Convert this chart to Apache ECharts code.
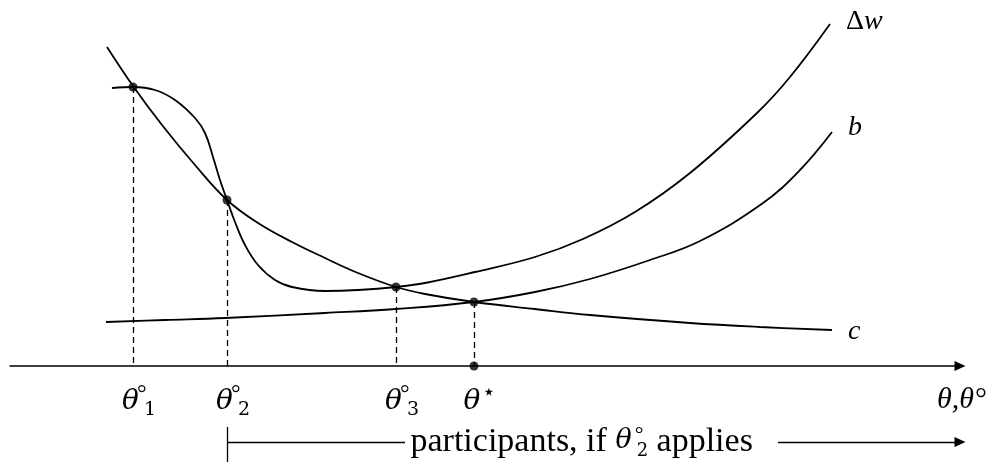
<!DOCTYPE html>
<html>
<head>
<meta charset="utf-8">
<script src="https://cdn.jsdelivr.net/npm/echarts@6/dist/echarts.min.js"></script>
<style>
  html, body { margin: 0; padding: 0; background: #fff; }
  #chart { width: 988px; height: 464px; }
</style>
</head>
<body>
<div id="chart"></div>
<script>
// Curves: x position along the θ axis, y height above the axis
const deltaW = [[112,278],[133,279],[155,276],[175,266],[195,248],[205,233],[213,209],[220,186],[227,166],[235,144],[245,121],[258,101],[275,86],[292,79],[325,75],[358,76],[396,79],[425,83],[475,94],[535,109],[583,127],[635,154],[690,193],[757,253],[790,289],[830,342]];
const benefit = [[106,44],[165,46],[225,48],[325,53],[396,57],[474,64],[535,74],[590,87],[650,106],[700,125],[763,163],[800,196],[832,234]];
const cost = [[107,319],[133,280],[162,241],[195,201],[227,166],[258,143],[292,124],[325,108],[358,93],[396,79],[425,72],[474,64],[535,57],[590,51],[690,43],[760,39],[832,36]];

// Intersections and the marked threshold
const crossings = [[133,279],[227,166],[396,79],[474,64]];
const axisDots = [[474,0]];

// Tick labels under the axis
const tickValues = [133, 227, 396, 474];
const tickSubs = ['1', '2', '3', null];

// Bracket for participants (from θ2° onward), drawn in the strip below the axis
const bracketStart = 227;
const bracketTextAt = 410;
const bracketLineTo = 405;
const bracketArrowFrom = 778;
const bracketEnd = 960;
const bracketY = -76;
const bracketTick = [-61, -96];

const serif = "'Liberation Serif', 'Times New Roman', serif";
const mathFont = "'DejaVu Serif', serif";

function thetaLabel(sub) {
  if (sub === null) return '{t|θ}{st|⋆}';
  return '{t|θ}{d|°}{s|' + sub + '}';
}
const thetaRich = {
  t: { fontFamily: mathFont, fontStyle: 'italic', fontSize: 28, color: '#000', lineHeight: 36 },
  d: { fontFamily: serif, fontSize: 24, color: '#000', width: 0, verticalAlign: 'top', lineHeight: 36, padding: [-1, 0, 0, 3] },
  s: { fontFamily: mathFont, fontSize: 19, color: '#000', verticalAlign: 'bottom', lineHeight: 36, padding: [0, 0, 0, 2] },
  st: { fontFamily: mathFont, fontSize: 22, color: '#000', verticalAlign: 'top', lineHeight: 36, padding: [-2, 0, 0, 2] }
};

const chart = echarts.init(document.getElementById('chart'), null, { renderer: 'canvas' });

const lineStyleCurve = { color: '#000', width: 1.8 };

function curveSeries(name, data, label, offset) {
  return {
    name: name,
    type: 'line',
    data: data,
    smooth: 0.4,
    showSymbol: false,
    symbol: 'none',
    clip: false,
    lineStyle: lineStyleCurve,
    endLabel: {
      show: true,
      formatter: label,
      offset: offset,
      rich: {
        u: { fontFamily: serif, fontSize: 28, color: '#000' },
        i: { fontFamily: serif, fontStyle: 'italic', fontSize: 28, color: '#000' }
      }
    },
    z: 3
  };
}

const option = {
  backgroundColor: '#fff',
  animation: false,
  grid: [
    { left: 10, right: 28, top: 0, bottom: 98, containLabel: false, outerBoundsMode: 'none' },
    { left: 10, right: 28, top: 366, bottom: 0, containLabel: false, outerBoundsMode: 'none' }
  ],
  xAxis: [
    {
      type: 'value',
      gridIndex: 0,
      min: 10,
      max: 960,
      splitLine: { show: false },
      axisTick: { show: false },
      axisLine: {
        onZero: false,
        symbol: ['none', 'triangle'],
        symbolSize: [10, 11],
        lineStyle: { color: '#000', width: 1.5 }
      },
      axisLabel: {
        customValues: tickValues,
        margin: 18,
        formatter: function (v) {
          const i = tickValues.indexOf(v);
          return i < 0 ? '' : thetaLabel(tickSubs[i]);
        },
        padding: [0, 0, 0, 12],
        rich: thetaRich
      },
      name: '{i|θ,θ°}',
      nameLocation: 'end',
      nameGap: 26,
      nameTextStyle: {
        align: 'right',
        verticalAlign: 'top',
        padding: [19, 0, 0, 0],
        rich: { i: { fontFamily: serif, fontStyle: 'italic', fontSize: 30, color: '#000' } }
      }
    },
    { type: 'value', gridIndex: 1, min: 10, max: 960, show: false }
  ],
  yAxis: [
    { type: 'value', gridIndex: 0, min: 0, max: 366, show: false },
    { type: 'value', gridIndex: 1, min: -98, max: 0, show: false }
  ],
  series: [
    curveSeries('Δw', deltaW, '{u|Δ}{i|w}', [8, -2]),
    curveSeries('b', benefit, '{i|b}', [8, -4]),
    curveSeries('c', cost, '{i|c}', [8, 2]),
    {
      name: 'points',
      type: 'scatter',
      data: crossings.concat(axisDots),
      symbol: 'circle',
      symbolSize: 9,
      itemStyle: { color: '#000' },
      clip: false,
      z: 5,
      markLine: {
        silent: true,
        symbol: ['none', 'none'],
        label: { show: false },
        lineStyle: { color: '#000', width: 1.3, type: [6, 4] },
        data: crossings.map(function (p) {
          return [{ coord: [p[0], p[1]] }, { coord: [p[0], 0] }];
        })
      }
    },
    {
      name: 'participants',
      type: 'line',
      xAxisIndex: 1,
      yAxisIndex: 1,
      data: [],
      clip: false,
      markLine: {
        silent: true,
        symbol: ['none', 'none'],
        label: { show: false },
        lineStyle: { color: '#000', width: 1.3, type: 'solid' },
        data: [
          [{ coord: [bracketStart, bracketTick[0]] }, { coord: [bracketStart, bracketTick[1]] }],
          [{ coord: [bracketStart, bracketY] }, { coord: [bracketLineTo, bracketY] }],
          [{ coord: [bracketArrowFrom, bracketY], symbol: 'none' }, { coord: [bracketEnd, bracketY], symbol: 'triangle', symbolSize: [10, 11] }]
        ]
      },
      markPoint: {
        silent: true,
        symbol: 'circle',
        symbolSize: 1,
        itemStyle: { color: 'rgba(0,0,0,0)' },
        label: {
          show: true,
          position: 'right',
          distance: 0,
          formatter: '{p|participants, if }{t|θ}{d|°}{s|2}{p| applies}',
          rich: {
            p: { fontFamily: serif, fontSize: 34, color: '#000', lineHeight: 40 },
            t: { fontFamily: mathFont, fontStyle: 'italic', fontSize: 27, color: '#000', lineHeight: 40, padding: [0, 0, 2, 0] },
            d: { fontFamily: serif, fontSize: 22, color: '#000', width: 0, verticalAlign: 'top', lineHeight: 40, padding: [2, 0, 0, 3] },
            s: { fontFamily: mathFont, fontSize: 18, color: '#000', verticalAlign: 'bottom', lineHeight: 40, padding: [0, 0, 2, 2] }
          }
        },
        data: [{ coord: [bracketTextAt, bracketY] }]
      }
    }
  ]
};

chart.setOption(option);
</script>
</body>
</html>
